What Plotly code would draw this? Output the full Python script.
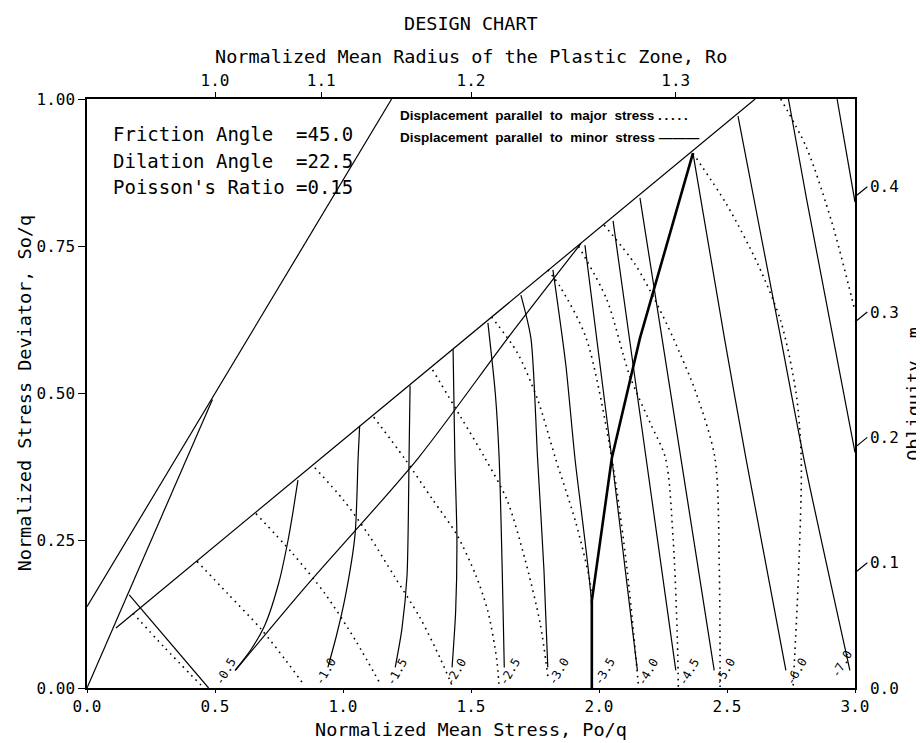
import plotly.graph_objects as go

# ---------------- data ----------------
# boundary lines (Po/q, So/q)
line_a_x = [0.0, 1.19]
line_a_y = [0.138, 1.0]
line_b_x = [0.0, 0.49]
line_b_y = [0.0, 0.49]
envelope_x = [0.113, 2.61]
envelope_y = [0.102, 1.0]
leg_x = [0.165, 0.475]
leg_y = [0.158, 0.0]
line_c_x = [0.58, 0.85, 1.293, 1.645, 1.93]
line_c_y = [0.03, 0.17, 0.39, 0.595, 0.755]
thick_x = [1.972, 1.972, 2.05, 2.16, 2.367]
thick_y = [0.0, 0.148, 0.39, 0.594, 0.908]

# displacement contour values
contour_labels = ["-0.5", "-1.0", "-1.5", "-2.0", "-2.5", "-3.0", "-3.5",
                  "-4.0", "-4.5", "-5.0", "-6.0", "-7.0"]
label_x = [0.54, 0.93, 1.21, 1.44, 1.65, 1.84, 2.02, 2.19, 2.35, 2.49, 2.77, 2.95]
label_y = [0.028, 0.028, 0.028, 0.028, 0.028, 0.028, 0.028, 0.028, 0.028, 0.028, 0.028, 0.04]

# displacement parallel to minor stress (solid)
minor_x = [
    [0.824, 0.805, 0.785, 0.75, 0.695, 0.64, 0.578],
    [1.065, 1.059, 1.047, 1.008, 0.975, 0.941],
    [1.262, 1.258, 1.25, 1.23, 1.204],
    [1.43, 1.437, 1.445, 1.44, 1.426],
    [1.566, 1.595, 1.61, 1.622, 1.63],
    [1.695, 1.734, 1.76, 1.785, 1.80],
    [1.82, 1.87, 1.906, 1.97, 1.972],
    [1.945, 2.05, 2.15],
    [2.055, 2.184, 2.30],
    [2.16, 2.32, 2.45],
    [2.367, 2.49, 2.574, 2.73],
    [2.543, 2.71, 2.80, 2.98],
    [2.74, 2.81, 3.0],
    [2.93, 3.0],
]
minor_y = [
    [0.353, 0.30, 0.25, 0.18, 0.107, 0.065, 0.03],
    [0.445, 0.39, 0.26, 0.153, 0.09, 0.035],
    [0.513, 0.39, 0.19, 0.10, 0.035],
    [0.575, 0.39, 0.255, 0.13, 0.035],
    [0.62, 0.50, 0.39, 0.2, 0.035],
    [0.667, 0.594, 0.39, 0.2, 0.035],
    [0.71, 0.55, 0.39, 0.148, 0.0],
    [0.752, 0.39, 0.03],
    [0.793, 0.39, 0.03],
    [0.832, 0.39, 0.03],
    [0.908, 0.594, 0.39, 0.03],
    [0.971, 0.594, 0.39, 0.03],
    [1.0, 0.832, 0.40],
    [1.0, 0.825],
]

# displacement parallel to major stress (dotted)
major_x = [
    [0.18, 0.30, 0.445],
    [0.43, 0.55, 0.68, 0.78, 0.848],
    [0.66, 0.80, 0.93, 1.05, 1.148],
    [0.89, 1.0, 1.10, 1.20, 1.30, 1.38, 1.43],
    [1.12, 1.24, 1.35, 1.445, 1.52, 1.566, 1.60, 1.61],
    [1.35, 1.46, 1.555, 1.64, 1.71, 1.77, 1.80],
    [1.58, 1.68, 1.76, 1.83, 1.91, 1.965, 1.972],
    [1.80, 1.85, 1.95, 2.05, 2.11, 2.155],
    [1.92, 2.03, 2.12, 2.20, 2.26, 2.29, 2.305, 2.31],
    [2.02, 2.14, 2.217, 2.29, 2.38, 2.453, 2.47, 2.473],
    [2.367, 2.50, 2.62, 2.71, 2.77, 2.79, 2.78, 2.758],
    [2.71, 2.81, 2.91, 3.0],
]
major_y = [
    [0.127, 0.07, 0.005],
    [0.215, 0.16, 0.10, 0.045, 0.005],
    [0.296, 0.23, 0.16, 0.08, 0.005],
    [0.374, 0.32, 0.26, 0.19, 0.12, 0.05, 0.0],
    [0.46, 0.39, 0.32, 0.26, 0.19, 0.13, 0.05, 0.0],
    [0.54, 0.46, 0.39, 0.32, 0.22, 0.11, 0.02],
    [0.63, 0.57, 0.49, 0.39, 0.28, 0.18, 0.148],
    [0.71, 0.68, 0.594, 0.39, 0.2, 0.0],
    [0.75, 0.66, 0.53, 0.45, 0.39, 0.25, 0.10, 0.0],
    [0.786, 0.72, 0.66, 0.594, 0.5, 0.39, 0.2, 0.0],
    [0.908, 0.82, 0.72, 0.623, 0.5, 0.39, 0.2, 0.0],
    [1.0, 0.918, 0.79, 0.64],
]

# axes
x_ticks = [0.0, 0.5, 1.0, 1.5, 2.0, 2.5, 3.0]
y_ticks = [0.0, 0.25, 0.5, 0.75, 1.0]
ro_pos = [0.5, 0.915, 1.5, 2.30]
ro_labels = ["1.0", "1.1", "1.2", "1.3"]
m_ticks = [0.0, 0.1, 0.2, 0.3, 0.4]
m_range_top = 0.47

params = ["Friction Angle  =45.0", "Dilation Angle  =22.5", "Poisson's Ratio =0.15"]
params_y = [0.94, 0.895, 0.85]

# ---------------- figure ----------------
MONO = "DejaVu Sans Mono"
LEG = "Liberation Sans"
fig = go.Figure()

thin = dict(color="black", width=1.2)


def add_line(xs, ys, line, shape="linear"):
    fig.add_trace(go.Scatter(x=xs, y=ys, mode="lines", line=dict(shape=shape, **line),
                             hoverinfo="skip", showlegend=False))


for xs, ys in [(line_a_x, line_a_y), (line_b_x, line_b_y), (envelope_x, envelope_y),
               (leg_x, leg_y)]:
    add_line(xs, ys, thin)
add_line(line_c_x, line_c_y, dict(color="black", width=1.2, smoothing=0.8), "spline")
add_line(thick_x, thick_y, dict(color="black", width=2.6))

for xs, ys in zip(minor_x, minor_y):
    add_line(xs, ys, dict(color="black", width=1.2, smoothing=0.7), "spline")
for xs, ys in zip(major_x, major_y):
    add_line(xs, ys, dict(color="black", width=1.6, dash="1.6px,4.5px", smoothing=0.8), "spline")

# invisible trace to activate the secondary axes
fig.add_trace(go.Scatter(x=[0, 3], y=[0, m_range_top], xaxis="x2", yaxis="y2", mode="markers",
                         marker=dict(opacity=0), hoverinfo="skip", showlegend=False))

for txt, yy in zip(params, params_y):
    fig.add_annotation(x=0.093, y=yy, xref="x", yref="y", text=txt, showarrow=False,
                       xanchor="left", yanchor="middle", font=dict(family=MONO, size=19))

for txt, xx, yy in zip(contour_labels, label_x, label_y):
    fig.add_annotation(x=xx, y=yy, xref="x", yref="y", text=txt, showarrow=False,
                       textangle=-60, xanchor="center", yanchor="middle",
                       font=dict(family=MONO, size=12))

dots = "\u2009".join(["."] * 5)
fig.add_annotation(x=1.215, y=0.972, xref="x", yref="y", xanchor="left", yanchor="middle",
                   text="<b>Displacement  parallel  to  major  stress " + dots + "</b>",
                   showarrow=False, font=dict(family=LEG, size=13.5))
fig.add_annotation(x=1.215, y=0.934, xref="x", yref="y", xanchor="left", yanchor="middle",
                   text="<b>Displacement  parallel  to  minor  stress ———</b>",
                   showarrow=False, font=dict(family=LEG, size=13.5))

# slanted right-axis tick marks
for m in m_ticks[1:]:
    fig.add_shape(type="line", xref="paper", yref="y2", x0=1.0, x1=1.016,
                  y0=m - 0.008, y1=m, line=dict(color="black", width=1.2))

# titles placed as text in paper space
TSIZE = 18.5
fig.add_annotation(x=0.5, y=1.129, xref="paper", yref="paper", text="DESIGN CHART",
                   showarrow=False, xanchor="center", yanchor="middle",
                   font=dict(family=MONO, size=TSIZE))
fig.add_annotation(x=0.5, y=1.073, xref="paper", yref="paper",
                   text="Normalized Mean Radius of the Plastic Zone, Ro",
                   showarrow=False, xanchor="center", yanchor="middle",
                   font=dict(family=MONO, size=TSIZE))
fig.add_annotation(x=0.5, y=-0.070, xref="paper", yref="paper",
                   text="Normalized Mean Stress, Po/q",
                   showarrow=False, xanchor="center", yanchor="middle",
                   font=dict(family=MONO, size=TSIZE))
fig.add_annotation(x=-0.081, y=0.5, xref="paper", yref="paper",
                   text="Normalized Stress Deviator, So/q", textangle=-90,
                   showarrow=False, xanchor="center", yanchor="middle",
                   font=dict(family=MONO, size=TSIZE))
fig.add_annotation(x=1.076, y=0.5, xref="paper", yref="paper",
                   text="Obliquity, m", textangle=-90,
                   showarrow=False, xanchor="center", yanchor="middle",
                   font=dict(family=MONO, size=TSIZE))

axis_common = dict(showgrid=False, zeroline=False, showline=True, linecolor="black",
                   linewidth=1.5, tickcolor="black", automargin=False,
                   tickfont=dict(family=MONO, size=16))

fig.update_layout(
    width=924, height=743,
    margin=dict(l=79, r=77, t=91, b=63),
    plot_bgcolor="white", paper_bgcolor="white",
    font=dict(family=MONO, size=16, color="black"),
    xaxis=dict(range=[0, 3], tickvals=x_ticks, ticktext=[f"{v:.1f}" for v in x_ticks],
               ticks="outside", ticklen=3, **axis_common),
    yaxis=dict(range=[0, 1], tickvals=y_ticks, ticktext=[f"{v:.2f}" for v in y_ticks],
               ticks="outside", ticklen=7, **axis_common),
    xaxis2=dict(range=[0, 3], overlaying="x", side="top", anchor="y", tickvals=ro_pos,
                ticktext=ro_labels, ticks="outside", ticklen=5, **axis_common),
    yaxis2=dict(range=[0, m_range_top], overlaying="y", side="right", anchor="x",
                tickvals=m_ticks, ticktext=[f"{v:.1f}" for v in m_ticks], ticks="",
                ticklabelstandoff=10, **axis_common),
)

fig.write_html("out.html")
